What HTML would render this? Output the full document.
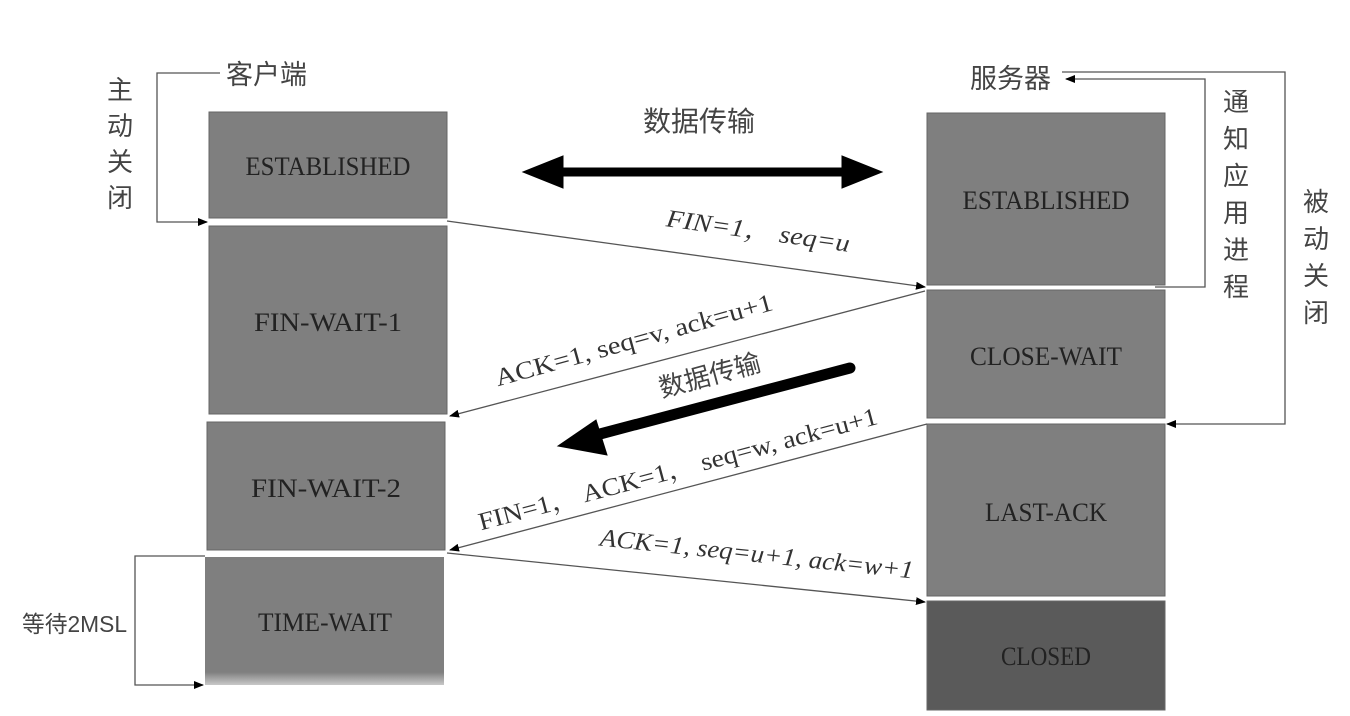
<!DOCTYPE html>
<html><head><meta charset="utf-8"><style>
html,body{margin:0;padding:0;background:#fff;width:1350px;height:716px;overflow:hidden}
svg{display:block}
.st{font-family:"Liberation Serif","Noto Serif CJK SC",serif;font-size:26px;fill:#222}
.cn{font-family:"Liberation Sans","Noto Sans CJK SC",sans-serif;font-size:26px;fill:#444}
.lb{font-family:"Liberation Serif","Noto Serif CJK SC",serif;font-size:25px;fill:#333}
</style></head><body>
<svg width="1350" height="716" viewBox="0 0 1350 716" xmlns="http://www.w3.org/2000/svg">
<defs>
<marker id="a" markerWidth="10" markerHeight="8" refX="9" refY="4" orient="auto" markerUnits="userSpaceOnUse"><path d="M0,0 L10,4 L0,8 z" fill="#000"/></marker>
<linearGradient id="g" x1="0" y1="0" x2="0" y2="1"><stop offset="0.9" stop-color="#7f7f7f"/><stop offset="1" stop-color="#c8c8c8"/></linearGradient>
</defs>
<g stroke="#666" stroke-width="1">
<rect x="209" y="112" width="238" height="106" fill="#7f7f7f"/>
<rect x="209" y="226" width="238" height="188" fill="#7f7f7f"/>
<rect x="207" y="422" width="238" height="128" fill="#7f7f7f"/>
<rect x="205" y="557" width="239" height="128" fill="url(#g)" stroke="none"/>
<rect x="927" y="113" width="238" height="172" fill="#7f7f7f"/>
<rect x="927" y="290" width="238" height="128" fill="#7f7f7f"/>
<rect x="927" y="424" width="238" height="172" fill="#7f7f7f"/>
<rect x="927" y="601" width="238" height="109" fill="#5a5a5a"/>
</g>
<g class="st" text-anchor="middle">
<text x="328" y="175" textLength="165" lengthAdjust="spacingAndGlyphs">ESTABLISHED</text>
<text x="328" y="331" textLength="148" lengthAdjust="spacingAndGlyphs">FIN-WAIT-1</text>
<text x="326" y="497" textLength="150" lengthAdjust="spacingAndGlyphs">FIN-WAIT-2</text>
<text x="325" y="631" textLength="134" lengthAdjust="spacingAndGlyphs">TIME-WAIT</text>
<text x="1046" y="209" textLength="167" lengthAdjust="spacingAndGlyphs">ESTABLISHED</text>
<text x="1046" y="365" textLength="152" lengthAdjust="spacingAndGlyphs">CLOSE-WAIT</text>
<text x="1046" y="521" textLength="122" lengthAdjust="spacingAndGlyphs">LAST-ACK</text>
<text x="1046" y="665" textLength="90" lengthAdjust="spacingAndGlyphs">CLOSED</text>
</g>
<g fill="none" stroke="#555" stroke-width="1.3">
<polyline points="220,73 157,73 157,222 207,222" marker-end="url(#a)"/>
<polyline points="1155,287 1205,287 1205,79 1066,79" marker-end="url(#a)"/>
<polyline points="1062,72 1285,72 1285,424 1167,424" marker-end="url(#a)"/>
<polyline points="205,556 135,556 135,685 203,685" marker-end="url(#a)"/>
<line x1="447" y1="221" x2="925" y2="287" marker-end="url(#a)"/>
<line x1="925" y1="291" x2="450" y2="416" marker-end="url(#a)"/>
<line x1="927" y1="424" x2="450" y2="550" marker-end="url(#a)"/>
<line x1="447" y1="553" x2="925" y2="602" marker-end="url(#a)"/>
</g>
<g stroke="#000" fill="#000">
<line x1="555" y1="172" x2="850" y2="172" stroke-width="9"/>
<path d="M523,172 L563,156 L563,188 z"/>
<path d="M882,172 L842,156 L842,188 z"/>
<line x1="850" y1="368" x2="600" y2="434" stroke-width="11" stroke-linecap="round"/>
<path d="M558,446 L596,420 L607,455 z"/>
</g>
<g class="cn">
<text x="226" y="84" font-size="27">客户端</text>
<text x="970" y="88" font-size="27">服务器</text>
<text x="643" y="131" font-size="28">数据传输</text>
<text x="22" y="632" font-size="23" textLength="105" lengthAdjust="spacingAndGlyphs">等待2MSL</text>
</g>
<g class="cn" text-anchor="middle" font-size="28">
<text x="120" y="99">主</text><text x="120" y="135">动</text><text x="120" y="171">关</text><text x="120" y="207">闭</text>
<text x="1236" y="111">通</text><text x="1236" y="148">知</text><text x="1236" y="185">应</text><text x="1236" y="222">用</text><text x="1236" y="259">进</text><text x="1236" y="296">程</text>
<text x="1316" y="211">被</text><text x="1316" y="248">动</text><text x="1316" y="285">关</text><text x="1316" y="322">闭</text>
</g>
<g class="lb" text-anchor="middle">
<text transform="translate(757,239) rotate(8)" font-style="italic" textLength="185" lengthAdjust="spacingAndGlyphs">FIN=1， seq=u</text>
<text transform="translate(636,348) rotate(-15.5)" textLength="287" lengthAdjust="spacingAndGlyphs">ACK=1, seq=v, ack=u+1</text>
<text transform="translate(712,384) rotate(-15)" class="cn" font-size="27">数据传输</text>
<text transform="translate(680,477) rotate(-15)" textLength="412" lengthAdjust="spacingAndGlyphs">FIN=1， ACK=1， seq=w, ack=u+1</text>
<text transform="translate(756,562) rotate(6)" font-style="italic" textLength="315" lengthAdjust="spacingAndGlyphs">ACK=1, seq=u+1, ack=w+1</text>
</g>
</svg>
</body></html>
